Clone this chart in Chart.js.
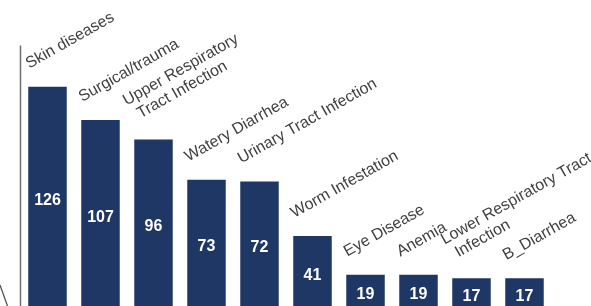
<!DOCTYPE html>
<html>
<head>
<meta charset="utf-8">
<script src="https://cdn.jsdelivr.net/npm/chart.js@4.4.1/dist/chart.umd.min.js"></script>
<style>
  html, body { margin: 0; padding: 0; background: #fff; overflow: hidden; width: 591px; height: 306px; }
  #wrap { width: 591px; height: 310px; }
  canvas { display: block; }
</style>
</head>
<body>
<div id="wrap"><canvas id="c" width="591" height="310"></canvas></div>
<script>
// ---- data ----
const categories = [
  ["Skin diseases"],
  ["Surgical/trauma"],
  ["Upper Respiratory", "Tract Infection"],
  ["Watery Diarrhea"],
  ["Urinary Tract Infection"],
  ["Worm Infestation"],
  ["Eye Disease"],
  ["Anemia"],
  ["Lower Respiratory Tract", "Infection"],
  ["B_Diarrhea"]
];
const cases = [126, 107, 96, 73, 72, 41, 19, 19, 17, 17];
const yAxisMax = 150;

// ---- styles ----
const BAR_COLOR = '#1E3765';
const LABEL_COLOR = '#3f3f3f';
const FONT = '"Liberation Sans", Arial, Helvetica, sans-serif';

const axisLinePlugin = {
  id: 'axisLine',
  beforeDatasetsDraw(chart) {
    const { ctx, chartArea } = chart;
    ctx.save();
    ctx.strokeStyle = '#6e6e6e';
    ctx.lineWidth = 1.5;
    ctx.beginPath();
    ctx.moveTo(chartArea.left - 0.5, chartArea.top + 1);
    ctx.lineTo(chartArea.left - 0.5, chartArea.bottom + 2);
    ctx.stroke();
    // small stray stroke at lower-left of the original picture
    ctx.strokeStyle = '#555';
    ctx.lineWidth = 1.3;
    ctx.beginPath();
    ctx.moveTo(0, 285);
    ctx.lineTo(7.5, 306);
    ctx.stroke();
    ctx.restore();
  }
};

const barLabelPlugin = {
  id: 'barLabels',
  afterDatasetsDraw(chart) {
    const ctx = chart.ctx;
    const meta = chart.getDatasetMeta(0);
    const values = chart.data.datasets[0].data;
    meta.data.forEach((el, i) => {
      const { x, y, base, width } = el.getProps(['x', 'y', 'base', 'width'], true);
      // value label, centred in the bar
      ctx.save();
      ctx.fillStyle = '#ffffff';
      ctx.font = 'bold 16px ' + FONT;
      ctx.textAlign = 'center';
      ctx.textBaseline = 'middle';
      ctx.fillText(String(values[i]), x, (y + base) / 2 + 3);
      ctx.restore();
      // rotated category label above the bar
      const lines = chart.data.labels[i];
      ctx.save();
      ctx.translate(x - width / 2 + 1, y - 18);
      ctx.rotate(-29.5 * Math.PI / 180);
      ctx.font = '16px ' + FONT;
      ctx.fillStyle = LABEL_COLOR;
      ctx.textAlign = 'left';
      ctx.textBaseline = 'alphabetic';
      lines.forEach((ln, j) => {
        ctx.fillText(ln, j > 0 ? 6 : 0, -(lines.length - 1 - j) * 18);
      });
      ctx.restore();
    });
  }
};

new Chart(document.getElementById('c'), {
  type: 'bar',
  data: {
    labels: categories,
    datasets: [{
      data: cases,
      backgroundColor: BAR_COLOR,
      borderWidth: 0,
      barPercentage: 0.726,
      categoryPercentage: 1.0
    }]
  },
  options: {
    responsive: false,
    animation: false,
    devicePixelRatio: 1,
    layout: { padding: { left: 21, right: 40, top: 44.5, bottom: 1.8 } },
    plugins: {
      legend: { display: false },
      tooltip: { enabled: false },
      title: { display: false }
    },
    scales: {
      x: { display: false },
      y: { display: false, min: 0, max: yAxisMax }
    }
  },
  plugins: [axisLinePlugin, barLabelPlugin]
});
</script>
</body>
</html>
